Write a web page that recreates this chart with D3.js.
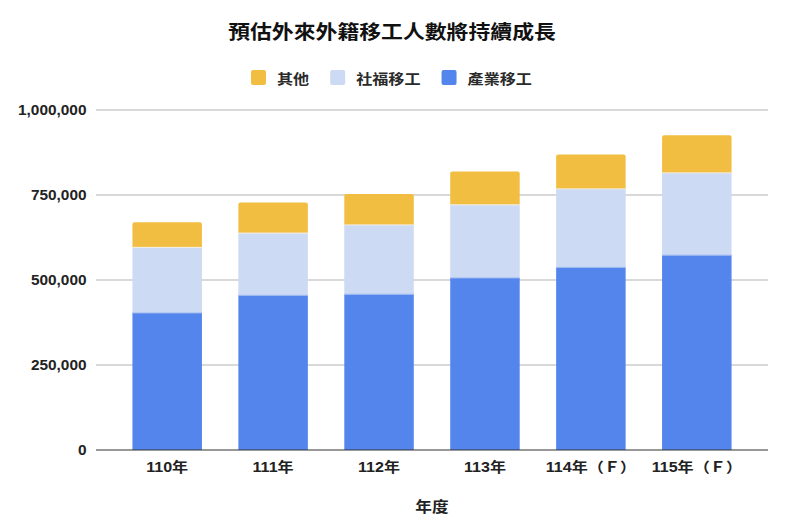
<!DOCTYPE html>
<html><head><meta charset="utf-8">
<script src="https://cdn.jsdelivr.net/npm/d3@7"></script>
<style>
html,body{margin:0;padding:0;background:#fff;}
text{font-family:"Liberation Sans","Noto Sans CJK TC",sans-serif;}
</style></head>
<body><svg id="c" width="804" height="530"></svg>
<script>
const categories = ["110年","111年","112年","113年","114年（Ｆ）","115年（Ｆ）"];
const industry = [403000, 455000, 458000, 506000, 537000, 573000];
const welfare  = [193000, 183000, 204000, 215000, 231000, 242000];
const other    = [74000, 90000, 91000, 98000, 101000, 111000];
const seriesNames = ["產業移工","社福移工","其他"];
const legendOrder = ["其他","社福移工","產業移工"];
const yTicks = [0, 250000, 500000, 750000, 1000000];
const title = "預估外來外籍移工人數將持續成長";
const xTitle = "年度";

const colors = {"產業移工":"#5485EC","社福移工":"#CCDAF4","其他":"#F1BE42"};
const SX = 1.15;
const svg = d3.select("#c");
const m = {left:96, right:768, top:110, bottom:450};

const rows = categories.map((c,i)=>({cat:c,"產業移工":industry[i],"社福移工":welfare[i],"其他":other[i]}));
const stack = d3.stack().keys(seriesNames)(rows);

const x = d3.scaleBand().domain(categories).range([m.left,m.right]).padding(0.344);
const y = d3.scaleLinear().domain([0,1000000]).range([m.bottom,m.top]);

function stext(g, xx, yy, str, opts){
  const t = g.append("text")
    .attr("transform",`translate(${xx},${yy}) scale(${opts.sx||SX},1)`)
    .attr("text-anchor",opts.anchor||"middle")
    .attr("font-size",opts.size)
    .attr("font-weight",opts.weight||"bold")
    .attr("fill",opts.fill||"#222")
    .attr("dominant-baseline","central")
    .text(str);
  if(opts.family) t.style("font-family",opts.family);
  return t;
}

// gridlines
svg.append("g").selectAll("line").data(yTicks.filter(d=>d>0)).join("line")
  .attr("x1",m.left).attr("x2",m.right)
  .attr("y1",d=>y(d)).attr("y2",d=>y(d))
  .attr("stroke","#cccccc").attr("stroke-width",1.3);

// y labels
const fmt = d3.format(",");
const yl = svg.append("g");
yTicks.forEach(d=>stext(yl, 86.5, y(d), fmt(d), {anchor:"end", size:14, sx:1.1}));

// bars
const bars = svg.append("g");
stack.forEach((s,si)=>{
  const top = si===stack.length-1;
  s.forEach((d,i)=>{
    const x0 = x(categories[i]), w = x.bandwidth();
    const y0 = y(d[0]), y1 = y(d[1]);
    if(top){
      const r = 2;
      const p = `M${x0},${y0}V${y1+r}Q${x0},${y1} ${x0+r},${y1}H${x0+w-r}Q${x0+w},${y1} ${x0+w},${y1+r}V${y0}Z`;
      bars.append("path").attr("d",p).attr("fill",colors[s.key]);
    } else {
      bars.append("rect").attr("x",x0).attr("y",y1).attr("width",w).attr("height",y0-y1)
        .attr("fill",colors[s.key]);
    }
    if(si>0){
      bars.append("line").attr("x1",x0).attr("x2",x0+w).attr("y1",y0).attr("y2",y0)
        .attr("stroke", si===1 ? "#9db7f0" : "#f3f0e8").attr("stroke-width",1);
    }
  });
});

// zero axis line
svg.append("line").attr("x1",m.left).attr("x2",m.right)
  .attr("y1",y(0)).attr("y2",y(0)).attr("stroke","#333").attr("stroke-width",1.2);

// x labels
const xl = svg.append("g");
categories.forEach(c=>stext(xl, x(c)+x.bandwidth()/2, 467, c, {size:14}));

// axis title
stext(svg, (m.left+m.right)/2, 506, xTitle, {size:14.5, family:"'Noto Sans CJK TC'"});

// title
stext(svg, 392, 31, title, {size:19, family:"'Noto Sans CJK TC'", fill:"#111"});

// legend
const lg = svg.append("g");
let lx = 251;
legendOrder.forEach(k=>{
  lg.append("rect").attr("x",lx).attr("y",70).attr("width",15).attr("height",15).attr("rx",2)
    .attr("fill",colors[k]);
  lx += 15 + 11;
  const t = stext(lg, lx, 77.5, k, {anchor:"start", size:14, family:"'Noto Sans CJK TC'", fill:"#2a2a2a"});
  lx += t.node().getComputedTextLength()*SX + 21;
});
</script></body></html>
